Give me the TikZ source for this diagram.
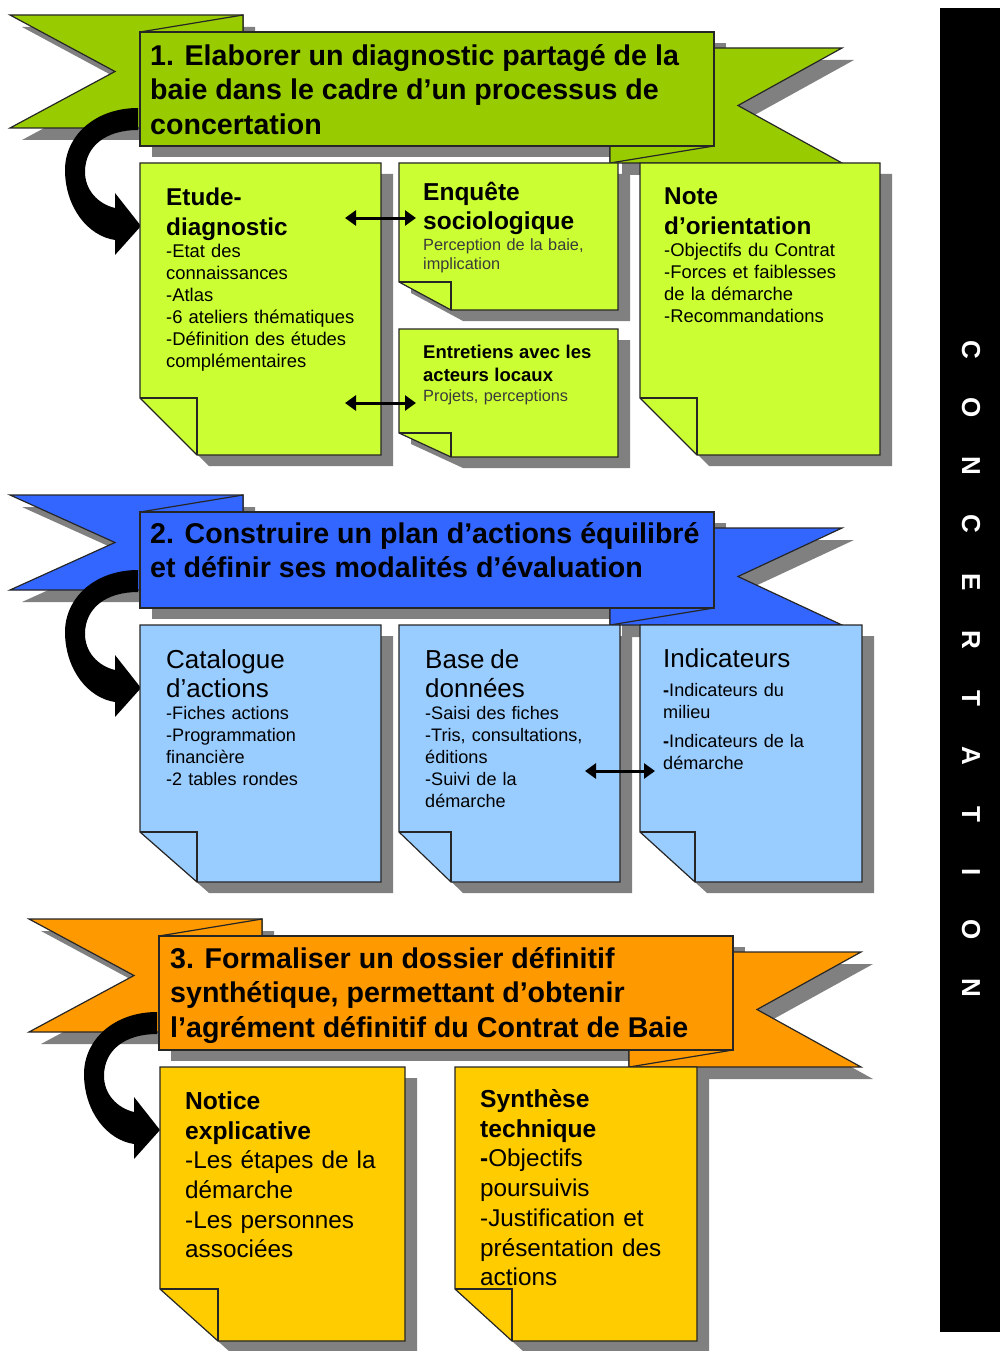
\documentclass[tikz,border=0pt]{standalone}
\usepackage{fontspec}
\setmainfont{Liberation Sans}
\usetikzlibrary{arrows.meta}
\setlength{\parindent}{0pt}
\setlength{\parskip}{0pt}

\definecolor{bannergreen}{HTML}{99CC00}
\definecolor{cardlime}{HTML}{CCFF33}
\definecolor{bannerblue}{HTML}{3366FF}
\definecolor{cardblue}{HTML}{99CCFF}
\definecolor{bannerorange}{HTML}{FF9900}
\definecolor{cardyellow}{HTML}{FFCC00}
\definecolor{shadowgray}{HTML}{808080}
\definecolor{subgray}{HTML}{3A3A3A}

\tikzset{
  ribbon/.style={draw=black!85, line width=1.2pt},
  cardline/.style={draw=black!85, line width=1.2pt},
  cardbox/.style={draw=none, inner sep=0pt, outer sep=0pt},
  headtext/.style={anchor=north west, inner sep=0pt, align=left, font=\fontsize{28.6}{34.5}\selectfont\bfseries},
  cardtext/.style={anchor=north west, inner sep=0pt, align=left},
  dblarrow/.style={{Triangle[length=11pt,width=15pt]}-{Triangle[length=11pt,width=15pt]}, line width=3pt},
  bartext/.style={text=white, inner sep=0pt, rotate=-90, font=\fontsize{26}{26}\selectfont\bfseries},
  bendarrow/.pic={
    \fill (138,108) .. controls (95,108) and (64,136) .. (65,172)
      .. controls (66,208) and (88,236) .. (115,240)
      -- (115,255) -- (141,226) -- (115,193) -- (115,208)
      .. controls (98,204) and (85,190) .. (85,172)
      .. controls (85,146) and (106,130) .. (138,130) -- cycle;
  }
}

% banner: x offset, top of front band, height of front band, colour
\newcommand\drawbanner[4]{%
  \pgfmathsetmacro\bnLx{10+#1}%
  \pgfmathsetmacro\bnNx{115+#1}%
  \pgfmathsetmacro\bnFx{140+#1}%
  \pgfmathsetmacro\bnKx{243+#1}%
  \pgfmathsetmacro\bnGx{610+#1}%
  \pgfmathsetmacro\bnRx{714+#1}%
  \pgfmathsetmacro\bnMx{738+#1}%
  \pgfmathsetmacro\bnTx{842+#1}%
  \pgfmathsetmacro\bnYa{#2-17}%
  \pgfmathsetmacro\bnYb{#2+#3-18}%
  \pgfmathsetmacro\bnYc{#2+16}%
  \pgfmathsetmacro\bnYd{#2+#3+17}%
  \pgfmathsetmacro\bnYe{#2+#3}%
  \fill[shadowgray, shift={(12,12)}] (\bnLx,\bnYa) -- (\bnKx,\bnYa) -- (\bnKx,\bnYb) -- (\bnLx,\bnYb) -- (\bnNx,{(\bnYa+\bnYb)/2}) -- cycle;
  \fill[shadowgray, shift={(12,12)}] (\bnGx,\bnYc) -- (\bnTx,\bnYc) -- (\bnMx,{(\bnYc+\bnYd)/2}) -- (\bnTx,\bnYd) -- (\bnGx,\bnYd) -- cycle;
  \fill[shadowgray, shift={(12,11)}] (\bnFx,#2) rectangle (\bnRx,\bnYe);
  \filldraw[ribbon, fill=#4] (\bnLx,\bnYa) -- (\bnKx,\bnYa) -- (\bnKx,\bnYb) -- (\bnLx,\bnYb) -- (\bnNx,{(\bnYa+\bnYb)/2}) -- cycle;
  \filldraw[ribbon, fill=#4] (\bnGx,\bnYc) -- (\bnTx,\bnYc) -- (\bnMx,{(\bnYc+\bnYd)/2}) -- (\bnTx,\bnYd) -- (\bnGx,\bnYd) -- cycle;
  \filldraw[ribbon, fill=#4] (\bnFx,#2) -- (\bnKx,\bnYa) -- (\bnKx,#2) -- cycle;
  \filldraw[ribbon, fill=#4] (\bnGx,\bnYe) -- (\bnRx,\bnYe) -- (\bnGx,\bnYd) -- cycle;
  \pic at ({#1},{#2+#3-146}) {bendarrow};
  \filldraw[ribbon, fill=#4] (\bnFx,#2) rectangle (\bnRx,\bnYe);
}

% card with folded corner: name, x, y, width, height, fold width, fold height, colour
\newcommand\drawcard[8]{%
  \node[cardbox, minimum width=#4, minimum height=#5, anchor=north west] (#1) at (#2,#3) {};
  \fill[shadowgray] ([shift={(12,11)}]#1.north west) -- ([shift={(12,11)}]#1.north east) -- ([shift={(12,11)}]#1.south east)
    -- ([shift={(12+#6,11)}]#1.south west) -- ([shift={(12,11-#7)}]#1.south west) -- cycle;
  \filldraw[cardline, fill=#8] (#1.north west) -- (#1.north east) -- (#1.south east)
    -- ([shift={(#6,0)}]#1.south west) -- ([shift={(0,-#7)}]#1.south west) -- cycle;
  \draw[cardline] ([shift={(0,-#7)}]#1.south west) -- ([shift={(#6,-#7)}]#1.south west) -- ([shift={(#6,0)}]#1.south west);
}

\begin{document}
\begin{tikzpicture}[x=1pt, y=-1pt]
\useasboundingbox (0,0) rectangle (1000,1351);

% 1. diagnostic
\drawbanner{0}{32}{114}{bannergreen}
\node[headtext] (head1) at (150,44) {1. Elaborer un diagnostic partagé de la\\baie dans le cadre d’un processus de\\concertation};

\drawcard{etude}{140}{163}{241}{292}{57}{57}{cardlime}
\drawcard{enquete}{399}{163}{219}{147}{52}{28}{cardlime}
\drawcard{entretiens}{399}{329}{219}{128}{52}{24}{cardlime}
\drawcard{note}{640}{163}{240}{292}{57}{57}{cardlime}

\node[cardtext, text width=215, font=\fontsize{18.4}{22}\selectfont] (etudeT) at ([shift={(26,25)}]etude.north west)
  {{\fontsize{24.3}{30}\selectfont\bfseries Etude-\\diagnostic\par}
   -Etat des\\connaissances\\-Atlas\\-6 ateliers thématiques\\-Définition des études\\complémentaires};
\node[cardtext, text width=190, font=\fontsize{16.3}{19.5}\selectfont] (enqueteT) at ([shift={(24,19)}]enquete.north west)
  {{\fontsize{24.5}{29}\selectfont\bfseries Enquête\\sociologique\par}
   \vspace{1.5pt}\textcolor{subgray}{Perception de la baie,\\implication}};
\node[cardtext, text width=190, font=\fontsize{16.3}{20}\selectfont] (entretiensT) at ([shift={(24,16)}]entretiens.north west)
  {{\fontsize{18.5}{23}\selectfont\bfseries Entretiens avec les\\acteurs locaux\par}
   \textcolor{subgray}{Projets, perceptions}};
\node[cardtext, text width=210, font=\fontsize{18.4}{22}\selectfont] (noteT) at ([shift={(24,25)}]note.north west)
  {{\fontsize{24.3}{30}\selectfont\bfseries Note\\d’orientation\par}
   -Objectifs du Contrat\\-Forces et faiblesses\\de la démarche\\-Recommandations};

\draw[dblarrow] ([shift={(-36,55)}]etude.north east) -- ([shift={(17,55)}]enquete.north west);
\draw[dblarrow] ([shift={(-36,240)}]etude.north east) -- ([shift={(17,74)}]entretiens.north west);

% 2. plan d'actions
\drawbanner{0}{512}{96}{bannerblue}
\node[headtext] (head2) at (150,522) {2. Construire un plan d’actions équilibré\\et définir ses modalités d’évaluation};

\drawcard{catalogue}{140}{625}{241}{257}{57}{50}{cardblue}
\drawcard{base}{399}{625}{221}{257}{52}{50}{cardblue}
\drawcard{indic}{640}{625}{222}{257}{55}{50}{cardblue}

\node[cardtext, text width=210, font=\fontsize{18.1}{22}\selectfont] (catalogueT) at ([shift={(26,24)}]catalogue.north west)
  {{\fontsize{26}{29}\selectfont Catalogue\\d’actions\par}
   -Fiches actions\\-Programmation\\financière\\-2 tables rondes};
\node[cardtext, text width=190, font=\fontsize{18.1}{22}\selectfont] (baseT) at ([shift={(26,24)}]base.north west)
  {{\fontsize{26}{29}\selectfont Base de\\données\par}
   -Saisi des fiches\\-Tris, consultations,\\éditions\\-Suivi de la\\démarche};
\node[cardtext, text width=195, font=\fontsize{18.1}{22}\selectfont] (indicT) at ([shift={(23,23)}]indic.north west)
  {\setlength{\parskip}{7pt}{\fontsize{26}{29}\selectfont Indicateurs\par}
   \textbf{-}Indicateurs du\\milieu\par
   \textbf{-}Indicateurs de la\\démarche};

\draw[dblarrow] ([shift={(-35,146)}]base.north east) -- ([shift={(15,146)}]indic.north west);

% 3. dossier definitif
\drawbanner{19}{936}{114}{bannerorange}
\node[headtext] (head3) at (170,947) {3. Formaliser un dossier définitif\\synthétique, permettant d’obtenir\\l’agrément définitif du Contrat de Baie};

\drawcard{notice}{160}{1067}{245}{274}{58}{52}{cardyellow}
\drawcard{synthese}{455}{1067}{242}{274}{57}{52}{cardyellow}

\node[cardtext, text width=215, font=\fontsize{24.3}{29.7}\selectfont] (noticeT) at ([shift={(25,24)}]notice.north west)
  {{\fontsize{24.6}{30}\selectfont\bfseries Notice\\explicative\par}
   -Les étapes de la\\démarche\\-Les personnes\\associées};
\node[cardtext, text width=210, font=\fontsize{24.3}{29.7}\selectfont] (syntheseT) at ([shift={(25,22)}]synthese.north west)
  {{\fontsize{24.6}{30}\selectfont\bfseries Synthèse\\technique\par}
   \textbf{-}Objectifs\\poursuivis\\-Justification et\\présentation des\\actions};

% bandeau concertation
\fill (940,8) rectangle (1000,1332);
\foreach \ch [count=\i from 0] in {C,O,N,C,E,R,T,A,T,I,O,N}
  \node[bartext] (bar\i) at (971,{350+58*\i}) {\ch};

\end{tikzpicture}
\end{document}
